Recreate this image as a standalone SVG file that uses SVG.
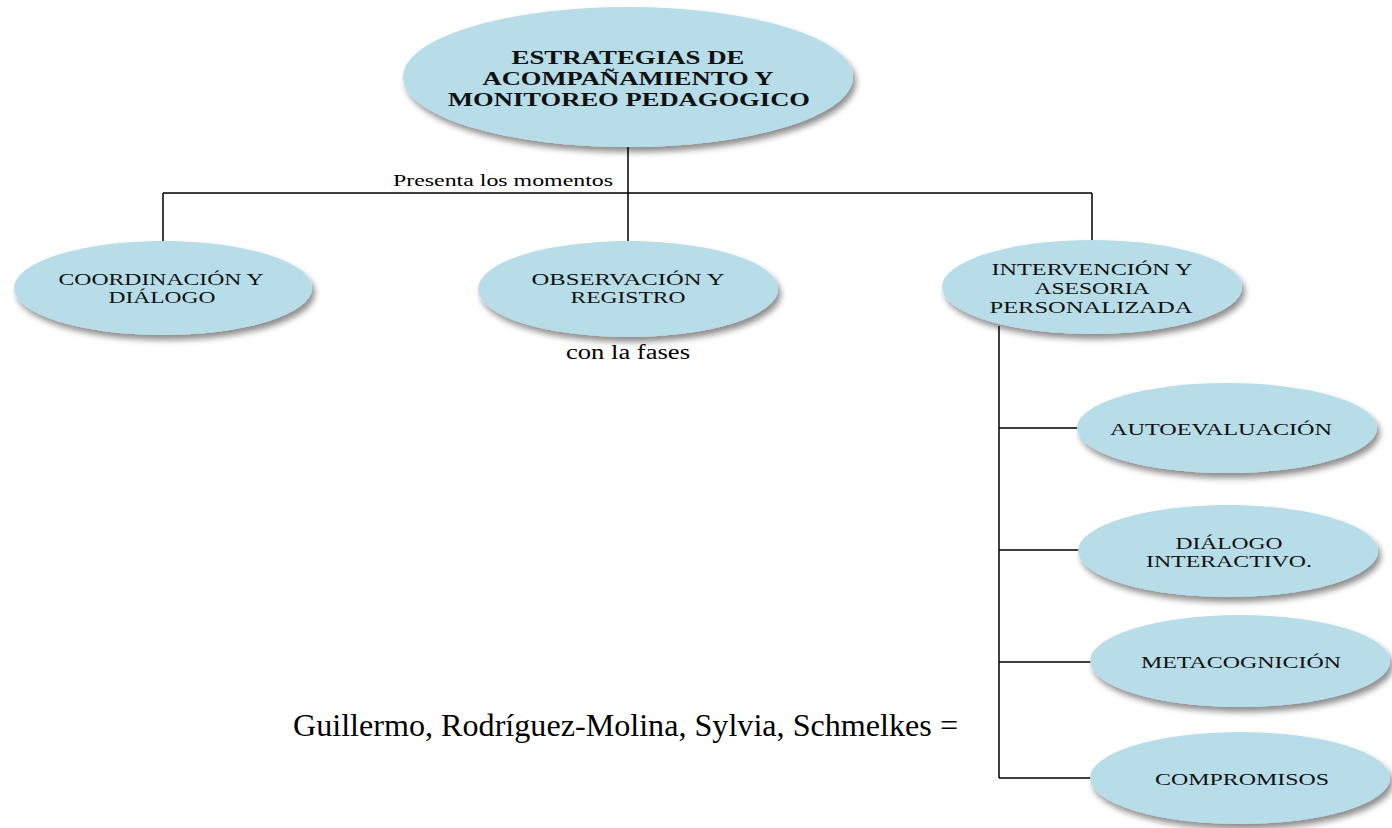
<svg xmlns="http://www.w3.org/2000/svg" width="1392" height="828" viewBox="0 0 1392 828">
<defs>
<filter id="sh" x="-10%" y="-10%" width="125%" height="135%">
<feGaussianBlur in="SourceAlpha" stdDeviation="3"/>
<feOffset dx="3" dy="5" result="b"/>
<feComponentTransfer><feFuncA type="linear" slope="0.45"/></feComponentTransfer>
<feMerge><feMergeNode/><feMergeNode in="SourceGraphic"/></feMerge>
</filter>
</defs>
<style>
.n{fill:#B7DDE8;filter:url(#sh)}
.t{font-family:"Liberation Serif","Times New Roman",serif;font-size:16px;fill:#111;text-anchor:middle}
.b{font-weight:bold;font-size:19px}
.c{stroke:#000;stroke-width:1.5;fill:none}
.l{font-family:"Liberation Serif","Times New Roman",serif;fill:#000}
</style>
<rect width="1392" height="828" fill="#fff"/>
<g id="connectors">
<path class="c" d="M628 146V193M163 193H1092M163 193V241M628 193V241M1092 193V241"/>
<path class="c" d="M999 326V778M999 428H1080M999 550H1080M999 662H1092M999 778H1092"/>
</g>
<text class="l" x="393" y="186" font-size="16" textLength="220" lengthAdjust="spacingAndGlyphs">Presenta los momentos</text>
<text class="l" x="566" y="359" font-size="20" textLength="124" lengthAdjust="spacingAndGlyphs">con la fases</text>
<text class="l" x="293" y="736" font-size="32" textLength="665" lengthAdjust="spacingAndGlyphs">Guillermo, Rodríguez-Molina, Sylvia, Schmelkes =</text>
<g id="n0"><ellipse class="n" cx="628" cy="77" rx="225" ry="70"/>
<text class="t b" x="628" y="64" textLength="233" lengthAdjust="spacingAndGlyphs">ESTRATEGIAS DE</text>
<text class="t b" x="628" y="85" textLength="291" lengthAdjust="spacingAndGlyphs">ACOMPAÑAMIENTO Y</text>
<text class="t b" x="629" y="106" textLength="362" lengthAdjust="spacingAndGlyphs">MONITOREO PEDAGOGICO</text></g>
<g id="n1"><ellipse class="n" cx="163" cy="288" rx="149" ry="47"/>
<text class="t" x="161" y="285" textLength="205" lengthAdjust="spacingAndGlyphs">COORDINACIÓN Y</text>
<text class="t" x="162" y="303" textLength="107" lengthAdjust="spacingAndGlyphs">DIÁLOGO</text></g>
<g id="n2"><ellipse class="n" cx="628" cy="289" rx="150" ry="48"/>
<text class="t" x="628" y="285" textLength="193" lengthAdjust="spacingAndGlyphs">OBSERVACIÓN Y</text>
<text class="t" x="628" y="303" textLength="115" lengthAdjust="spacingAndGlyphs">REGISTRO</text></g>
<g id="n3"><ellipse class="n" cx="1092" cy="287" rx="150" ry="47"/>
<text class="t" x="1092" y="275" textLength="201" lengthAdjust="spacingAndGlyphs">INTERVENCIÓN Y</text>
<text class="t" x="1092" y="294" textLength="115" lengthAdjust="spacingAndGlyphs">ASESORIA</text>
<text class="t" x="1091" y="313" textLength="203" lengthAdjust="spacingAndGlyphs">PERSONALIZADA</text></g>
<g id="n4"><ellipse class="n" cx="1227" cy="428" rx="150" ry="45"/>
<text class="t" x="1221" y="435" textLength="222" lengthAdjust="spacingAndGlyphs">AUTOEVALUACIÓN</text></g>
<g id="n5"><ellipse class="n" cx="1228" cy="551" rx="150" ry="46"/>
<text class="t" x="1229" y="549" textLength="107" lengthAdjust="spacingAndGlyphs">DIÁLOGO</text>
<text class="t" x="1229" y="567" textLength="166" lengthAdjust="spacingAndGlyphs">INTERACTIVO.</text></g>
<g id="n6"><ellipse class="n" cx="1240" cy="661" rx="150" ry="46"/>
<text class="t" x="1241" y="668" textLength="200" lengthAdjust="spacingAndGlyphs">METACOGNICIÓN</text></g>
<g id="n7"><ellipse class="n" cx="1240" cy="778" rx="150" ry="46"/>
<text class="t" x="1242" y="785" textLength="174" lengthAdjust="spacingAndGlyphs">COMPROMISOS</text></g>
</svg>
